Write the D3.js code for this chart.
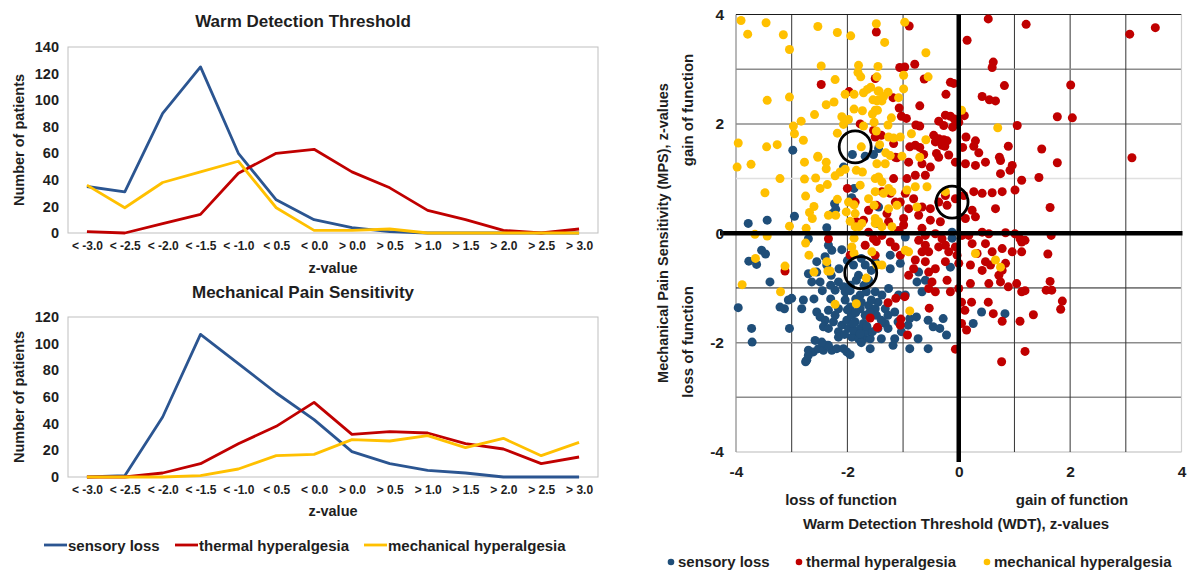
<!DOCTYPE html>
<html><head><meta charset="utf-8">
<script src="https://cdn.jsdelivr.net/npm/d3@7"></script>
<style>
body{margin:0;background:#fff;}
svg{display:block;font-family:"Liberation Sans",Arial,sans-serif;font-weight:bold;}
</style></head>
<body><svg id="c" width="1188" height="571"></svg>
<script>
// ---------- data ----------
const categories = ["< -3.0","< -2.5","< -2.0","< -1.5","< -1.0","< 0.5","< 0.0","> 0.0","> 0.5","> 1.0","> 1.5","> 2.0","> 2.5","> 3.0"];
const wdtSensoryLoss = [35,31,90,125,60,25,10,4,1,0,0,0,0,0];
const wdtThermal     = [1,0,7,14,45,60,63,46,34,17,10,2,0,3];
const wdtMechanical  = [36,19,38,46,54,19,2,2,3,0,0,0,0,0];
const mpsSensoryLoss = [0,1,45,107,85,63,43,19,10,5,3,0,0,0];
const mpsThermal     = [0,0,3,10,25,38,56,32,34,33,25,21,10,15];
const mpsMechanical  = [0,0,0,1,6,16,17,28,27,31,22,29,16,26];
const wdtTicks = [0,20,40,60,80,100,120,140];
const mpsTicks = [0,20,40,60,80,100,120];
const seriesNames = ["sensory loss","thermal hyperalgesia","mechanical hyperalgesia"];
const scatterTicks = [-4,-2,0,2,4];
const gridValues = [-4,-3,-2,-1,0,1,2,3,4];

// scatter points [WDT z, MPS z]
const scatterSensoryLoss = [
[-1.44,1.55],[-2.98,1.52],[-1.91,1.44],[-1.68,1.41],[-1.53,1.44],
[-3.78,0.18],[-3.44,0.24],[-2.95,0.31],[-2.37,0.10],[-2.23,0.54],[-2.21,0.44],[-2.27,0.36],[-2.07,1.21],[-1.92,0.65],[-1.88,0.82],
[-2.70,-0.10],[-2.34,-0.22],[-2.28,-0.31],[-2.40,-0.43],[-2.37,-0.58],[-2.55,-0.52],[-2.70,-0.74],[-2.55,-0.71],[-2.49,-0.89],[-2.64,-0.89],[-2.29,-0.77],[-2.16,-0.89],[-2.07,-0.98],[-2.22,-1.04],[-2.04,-1.07],
[-3.54,-0.31],[-3.47,-0.38],[-3.77,-0.51],[-3.63,-0.57],[-3.39,-0.89],
[-1.89,-0.58],[-1.68,-0.58],[-1.80,-0.77],[-1.57,-0.68],[-1.62,-0.86],[-1.84,-0.86],[-1.50,-0.52],[-1.75,-0.46],
[-1.66,-1.07],[-1.50,-1.07],[-1.77,-1.13],
[-0.12,0.02],[-0.12,-0.09],[-0.15,-0.62],[-1.44,0.48],[-1.47,0.18],[-0.96,-0.07],[-1.05,-0.55],[-1.23,-0.40],[-1.23,-0.65],[-0.72,-0.71],[-0.75,-0.89],[-0.60,-0.86],[-1.26,-1.01],[-1.38,-1.13],[-1.08,-1.13],[-0.96,-1.13],[-0.66,-1.07],
[-3.96,-1.36],[-3.72,-1.74],[-3.71,-1.99],[-3.04,-1.74],[-3.21,-1.35],[-3.13,-1.38],[-3.06,-1.22],[-3.00,-1.19],[-2.82,-1.38],[-2.79,-1.22],[-2.75,-2.35],[-2.73,-2.32],
[-2.70,-2.14],[-2.61,-2.17],[-2.52,-2.11],[-2.43,-2.14],[-2.37,-2.05],[-2.28,-2.14],[-2.19,-2.11],[-2.07,-2.11],[-2.01,-2.17],[-1.95,-2.22],[-2.70,-2.23],
[-2.55,-1.44],[-2.49,-1.53],[-2.40,-1.59],[-2.43,-1.71],[-2.34,-1.74],[-2.25,-1.62],[-2.22,-1.50],[-2.34,-1.41],[-2.16,-1.80],[-2.16,-1.90],[-2.10,-1.68],[-2.01,-1.59],[-1.92,-1.50],[-1.86,-1.62],[-1.77,-1.74],[-1.83,-1.86],[-1.92,-1.90],[-1.71,-1.93],[-1.59,-1.93],[-1.66,-1.80],[-1.71,-1.65],[-1.68,-1.50],[-1.77,-1.38],[-1.62,-1.32],[-1.50,-1.38],[-1.45,-1.26],[-1.32,-1.65],[-1.27,-1.74],[-1.45,-1.74],[-1.39,-1.93],[-1.15,-1.93],[-1.18,-2.05],[-1.03,-1.80],[-0.91,-1.68],[-0.88,-1.56],[-0.76,-1.53],[-0.73,-1.93],[-0.55,-1.59],[-0.46,-1.71],[-0.34,-1.74],[-0.22,-1.86],[-0.28,-1.56],[-0.88,-2.11],[-0.55,-2.11],[-1.59,-2.11],[0.41,-1.44],[0.26,-1.65],[0.83,-1.47],
[-1.98,-1.74],[-1.89,-1.77],[-1.80,-1.93],[-1.77,-1.84],[-1.32,-1.38],[-1.15,-1.44],[-1.09,-1.62],[-1.27,-1.50],[-2.34,-2.05],[-2.46,-1.99],[-2.58,-1.96],
[-2.04,-1.22],[-1.95,-1.35],[-2.16,-1.38],[-1.75,-1.26],[-1.57,-1.22],[-1.48,-1.50],[-1.39,-1.59],
[-2.10,-0.30],[-2.00,-0.50],[-2.15,-0.65],[-1.95,-0.95],[-1.70,-0.95],[-2.30,-0.95],[-2.45,-1.05],[-2.60,-1.20],[-2.30,-1.20],[-2.00,-1.40],[-1.85,-1.20],[-1.95,-1.05],[-1.60,-1.45],[-1.90,-1.65],[-2.05,-1.85],[-1.65,-1.70],[-1.55,-1.80],[-1.75,-2.00],[-1.85,-1.45]
];
const scatterThermal = [
[-1.48,3.68],[-2.47,2.72],[-1.97,2.59],[-1.50,2.83],[-1.77,2.00],[-1.53,1.88],[-1.50,1.76],
[-0.89,3.79],[0.53,3.92],[1.21,3.82],[0.15,3.53],[-0.79,3.09],[-0.97,3.04],[-1.06,3.03],[0.62,3.13],[0.60,3.03],[-0.62,2.82],[-0.15,2.76],[-0.09,2.74],[0.82,2.70],[-0.23,2.54],[-1.18,2.48],[0.42,2.50],[0.55,2.44],[0.66,2.42],[-1.07,2.29],[-0.70,2.33],[-1.03,2.14],[-0.94,2.10],[-0.24,2.16],[-0.15,2.14],[-0.08,2.09],[-0.36,2.05],[-0.27,1.97],[-0.11,1.94],[0.00,2.03],[0.10,2.15],[-0.77,1.98],[-0.70,1.96],[1.05,1.97],[0.13,1.76],[0.30,1.69],[0.27,1.59],[-0.45,1.79],[-0.36,1.73],[-0.27,1.71],[-0.42,1.67],[-0.30,1.61],[-0.21,1.69],[-0.25,1.59],[-0.88,1.58],[-0.78,1.61],[-0.70,1.57],[0.07,1.57],[0.89,1.59],[0.36,1.47],[0.73,1.39],[-0.40,1.46],[-0.18,1.43],[-0.63,1.44],[-1.39,1.79],[-1.17,1.64],[-1.14,1.39],
[3.07,3.64],[3.53,3.76],[2.01,2.71],[1.77,2.13],[2.04,2.11],[1.49,1.54],[1.77,1.29],[3.11,1.38],[1.44,1.02],[1.64,0.47],[1.66,-0.04],
[-2.00,0.82],[-2.34,-0.10],[-3.12,-0.69],[-1.86,0.57],[-1.84,0.21],[-1.71,0.24],[-1.62,0.02],[-1.68,-0.22],[-1.53,-0.10],[-1.48,-0.15],[-1.95,-0.40],[-1.50,-0.40],[-1.48,0.51],[-1.62,0.42],
[-1.11,1.38],[-0.90,1.30],[-0.66,1.27],[-0.51,1.21],[-0.36,1.39],[-0.06,1.30],[0.12,1.27],[0.30,1.24],[0.48,1.30],[0.75,1.33],[0.96,1.24],[0.92,1.15],[0.75,1.09],[-0.60,1.06],[-0.78,1.06],[-1.17,1.00],[-0.93,1.00],
[1.13,0.97],[1.01,0.79],[0.78,0.76],[0.60,0.74],[0.42,0.73],[0.27,0.76],[0.09,0.69],[-0.06,0.63],[-0.24,0.69],[-0.21,0.51],[-0.36,0.57],[-0.51,0.45],[-0.66,0.48],[-0.81,0.63],[-0.96,0.73],[-1.05,0.57],[-0.90,0.45],[-0.72,0.33],[0.66,0.45],[0.24,0.42],[0.30,0.30],[0.12,0.27],[-0.33,0.21],[-0.51,0.24],[-0.99,0.27],[-0.66,0.09],[-0.60,-0.04],[-0.42,-0.01],[-0.30,-0.10],[0.06,-0.04],[0.18,-0.04],[0.42,0.02],[0.54,-0.01],[0.84,0.01],[1.01,-0.01],[1.10,-0.10],[1.13,-0.16],[0.96,-0.34],[1.13,-0.34],
[-0.72,-0.13],[-0.60,-0.22],[-0.54,-0.34],[-0.36,-0.25],[-0.24,-0.22],[-0.06,-0.25],[-0.18,-0.34],[-0.03,-0.40],[0.24,-0.19],[0.48,-0.19],[0.60,-0.34],[0.78,-0.28],[0.33,-0.37],[0.48,-0.52],[0.57,-0.58],[0.84,-0.55],[0.78,-0.68],[0.72,-0.77],[0.42,-0.68],[0.21,-0.58],[0.00,-0.55],[-0.24,-0.52],[-0.42,-0.65],[-0.54,-0.71],[-0.60,-0.52],[-0.78,-0.49],[-0.81,-0.65],[-0.90,-0.77],[-0.48,-0.89],[-0.21,-0.86],[0.00,-1.01],[-0.15,-1.07],[0.21,-0.92],[0.54,-0.92],[0.75,-0.89],[0.89,-0.98],[1.04,-0.92],[1.13,-1.07],[-0.54,-1.01],[-0.42,-1.07],[-0.66,-0.34],[-1.14,-0.25],[-1.05,-0.40],
[-1.38,0.76],[-1.23,0.73],[-1.14,0.57],[-1.29,0.36],[-1.38,-0.04],[-1.23,-0.16],[-1.08,0.05],[-0.99,0.15],[-1.26,0.21],
[-1.59,-1.55],[-1.46,-1.72],[-1.04,-1.57],[-1.05,-1.68],[-0.92,-1.86],[-1.27,-1.27],[-1.13,-1.19],[-0.97,-1.16],[-0.53,-1.37],[-0.06,-2.12],[0.05,-1.26],[0.23,-1.26],[0.11,-1.41],[0.05,-1.65],[0.14,-1.77],[0.53,-1.26],[0.62,-1.47],[0.78,-1.61],[1.10,-1.61],[1.19,-2.16],[0.77,-2.35],
[1.19,-0.13],[1.60,-0.38],[1.64,-0.88],[1.57,-1.04],[1.67,-1.04],[1.19,-1.05],[1.86,-1.24],[1.83,-1.39],[1.34,-1.49]
];
const scatterMechanical = [
[-3.91,3.89],[-3.46,3.85],[-3.79,3.64],[-3.15,3.63],[-2.53,3.78],[-2.18,3.67],[-1.94,3.61],[-1.48,3.83],[-3.04,3.36],[-2.47,3.06],[-1.80,3.07],[-1.81,2.94],[-1.76,2.86],[-1.45,3.05],[-2.22,2.81],[-3.44,2.43],[-3.04,2.49],[-2.38,2.35],[-2.24,2.40],[-2.59,2.17],[-2.83,2.05],[-2.04,2.54],[-1.88,2.54],[-1.71,2.57],[-1.64,2.63],[-1.58,2.67],[-1.45,2.60],[-1.54,2.44],[-1.47,2.42],[-1.88,2.27],[-1.73,2.24],[-1.50,2.25],[-2.10,2.13],[-1.98,2.08],[-2.07,1.99],[-1.71,1.96],[-1.55,2.18],[-1.52,2.03],[-2.97,1.96],[-2.95,1.82],[-2.79,1.70],[-3.96,1.65],[-3.45,1.58],[-3.26,1.62],[-2.53,1.41],[-2.18,1.83],[-1.75,1.58],[-1.48,1.87],
[-0.97,3.86],[-1.33,3.49],[-0.59,3.30],[-0.99,2.89],[-0.55,2.86],[-1.47,2.86],[-0.99,2.64],[-1.43,2.60],[-1.27,2.58],[-1.35,2.50],[-1.44,2.44],[-1.38,2.42],[-1.08,2.48],[-1.46,2.25],[-1.21,2.11],[-1.27,1.98],[0.05,2.25],[0.70,1.93],[-0.85,1.82],[-1.26,1.76],[-1.17,1.74],[-1.05,1.76],[-0.59,1.71],[-1.42,1.62],[-1.31,1.47],[-1.23,1.42],[-1.02,1.41],[-0.70,1.39],
[-3.98,1.21],[-3.73,1.26],[-3.21,1.00],[-2.77,1.30],[-2.53,1.39],[-2.38,1.30],[-2.38,1.18],[-2.77,0.99],[-2.57,1.01],[-2.49,0.82],[-2.36,0.89],[-2.22,1.05],[-2.13,1.12],[-2.04,1.17],[-3.48,0.74],[-2.75,0.68],[-2.60,0.49],[-2.68,0.38],[-2.63,0.27],[-2.34,0.33],[-2.21,0.33],[-3.04,0.13],[-2.74,0.09],[-3.66,-0.02],[-3.44,-0.05],[-2.75,-0.18],[-2.69,-0.40],[-3.65,-0.46],[-3.12,-0.60],[-2.60,-0.71],[-2.35,-0.69],[-3.89,-0.94],[-3.20,-1.07],
[-2.18,0.62],[-1.98,0.57],[-1.88,0.52],[-2.02,0.39],[-1.86,0.36],[-1.95,0.22],[-1.86,0.12],[-1.88,-0.09],[-1.84,1.15],[-1.73,1.12],[-1.77,0.88],[-1.62,0.63],[-1.50,0.76],[-1.50,1.00],[-1.52,0.51],[-1.50,0.27],[-1.50,0.18],[-1.74,0.18],[-1.79,0.12],[-1.92,-0.25],[-1.88,-0.37],[-1.56,-0.34],[-2.37,-0.52],[-2.31,-0.69],[-1.66,-0.82],
[-1.47,1.27],[-1.32,1.27],[-1.44,1.03],[-1.38,0.94],[-1.26,0.82],[-1.20,0.76],[-1.35,0.73],[-1.11,0.51],[-1.26,0.45],[-0.78,0.85],[-0.57,0.85],[-0.75,0.48],[-0.93,0.79],[-1.44,0.21],[-1.38,0.12],[-1.20,0.12],[-0.96,-0.31],[-0.90,-0.34],[-1.47,-0.58],[-1.38,-0.58],[0.30,-0.37],[0.66,-0.49],[0.75,-0.62],[-0.24,0.76],
[-2.22,-1.30],[-1.84,-1.29],[-0.88,-1.42]
];
const circleCenters = [[-1.86,1.58],[-0.12,0.57],[-1.76,-0.72]];

// ---------- drawing ----------
const svg = d3.select("#c");
const colors = ["#2B5591","#C00000","#FFC000"];
const dotColors = ["#1F4E79","#C00000","#FFC000"];
const txt = "#1e1e1e";
const FONT = "Liberation Sans, Arial, sans-serif";

function lineChart(cfg){
  const g = svg.append("g");
  const x = d3.scalePoint().domain(categories).range([cfg.x0,cfg.x1]).padding(0.5);
  const y = d3.scaleLinear().domain([0,cfg.ymax]).range([cfg.y1,cfg.y0]);
  g.append("rect").attr("x",cfg.x0).attr("y",cfg.y0).attr("width",cfg.x1-cfg.x0).attr("height",cfg.y1-cfg.y0)
    .attr("fill","none").attr("stroke","#bfbfbf").attr("stroke-width",1);
  const ya = g.append("g").attr("transform",`translate(${cfg.x0},0)`)
    .call(d3.axisLeft(y).tickValues(cfg.ticks).tickSize(0).tickPadding(9));
  ya.select(".domain").remove();
  ya.selectAll("text").attr("font-size",14.5).attr("font-family",FONT).attr("font-weight","bold").attr("fill",txt);
  const xa = g.append("g").attr("transform",`translate(0,${cfg.y1})`)
    .call(d3.axisBottom(x).tickSize(0).tickPadding(8));
  xa.select(".domain").remove();
  xa.selectAll("text").attr("font-size",12).attr("font-family",FONT).attr("font-weight","bold").attr("fill",txt);
  const line = d3.line().x((d,i)=>x(categories[i])).y(d=>y(d));
  cfg.series.forEach((s,i)=>{
    g.append("path").attr("d",line(s)).attr("fill","none").attr("stroke",colors[i])
      .attr("stroke-width",2.8).attr("stroke-linejoin","round");
  });
  g.append("text").attr("x",303).attr("y",cfg.titleY).attr("text-anchor","middle")
    .attr("font-size",17).attr("fill",txt).text(cfg.title);
  g.append("text").attr("x",333).attr("y",cfg.xTitleY).attr("text-anchor","middle")
    .attr("font-size",14.5).attr("fill",txt).text("z-value");
  g.append("text").attr("transform",`translate(24,${(cfg.y0+cfg.y1)/2}) rotate(-90)`).attr("text-anchor","middle")
    .attr("font-size",14.5).attr("fill",txt).text("Number of patients");
}

lineChart({x0:68,x1:598,y0:47,y1:233,ymax:140,ticks:wdtTicks,series:[wdtSensoryLoss,wdtThermal,wdtMechanical],
  title:"Warm Detection Threshold",titleY:27,xTitleY:273});
lineChart({x0:68,x1:598,y0:317,y1:477,ymax:120,ticks:mpsTicks,series:[mpsSensoryLoss,mpsThermal,mpsMechanical],
  title:"Mechanical Pain Sensitivity",titleY:298,xTitleY:516});

// left legend
const legL = svg.append("g");
const legLx = [44,175,364];
seriesNames.forEach((n,i)=>{
  legL.append("line").attr("x1",legLx[i]).attr("x2",legLx[i]+23).attr("y1",545).attr("y2",545)
    .attr("stroke",colors[i]).attr("stroke-width",2.8);
  legL.append("text").attr("x",legLx[i]+24).attr("y",550.5).attr("font-size",15).attr("fill",txt).text(n);
});

// ---------- scatter ----------
const sx = d3.scaleLinear().domain([-4,4]).range([736,1181.5]);
const sy = d3.scaleLinear().domain([-4,4]).range([452,14.5]);
const sg = svg.append("g");
const hStyle = {"-4":["#d0d0d0",1.5],"-3":["#8c8c8c",1.5],"-2":["#8c8c8c",1.5],"-1":["#1a1a1a",1],"1":["#e0e0e0",1.5],"2":["#8c8c8c",1.5],"3":["#8c8c8c",1.5],"4":["#1a1a1a",1.2]};
const vStyle = {"-4":["#a0a0a0",1.5],"-3":["#333",1],"-2":["#333",1],"-1":["#333",1],"1":["#333",1],"2":["#333",1],"3":["#333",1],"4":["#d0d0d0",1.2]};
gridValues.filter(v=>v!==0).forEach(v=>{
  sg.append("line").attr("x1",sx(-4)).attr("x2",sx(4)).attr("y1",sy(v)).attr("y2",sy(v))
    .attr("stroke",hStyle[v][0]).attr("stroke-width",hStyle[v][1]);
  sg.append("line").attr("y1",sy(-4)).attr("y2",sy(4)).attr("x1",sx(v)).attr("x2",sx(v))
    .attr("stroke",vStyle[v][0]).attr("stroke-width",vStyle[v][1]);
});
[scatterSensoryLoss,scatterThermal,scatterMechanical].forEach((pts,i)=>{
  sg.append("g").selectAll("circle").data(pts).join("circle")
    .attr("cx",d=>sx(d[0])).attr("cy",d=>sy(d[1])).attr("r",4.5).attr("fill",dotColors[i]);
});
// zero axes
sg.append("line").attr("x1",720).attr("x2",sx(4)+1).attr("y1",sy(0)).attr("y2",sy(0)).attr("stroke","#000").attr("stroke-width",4.5);
sg.append("line").attr("x1",sx(0)).attr("x2",sx(0)).attr("y1",sy(4)).attr("y2",sy(-4)+10).attr("stroke","#000").attr("stroke-width",4.5);
// circles
sg.append("g").selectAll("circle").data(circleCenters).join("circle")
  .attr("cx",d=>sx(d[0])).attr("cy",d=>sy(d[1])).attr("r",16).attr("fill","none").attr("stroke","#000").attr("stroke-width",2.8);
// tick labels
const yAx = sg.append("g").attr("transform","translate(724,0)").call(d3.axisLeft(sy).tickValues(scatterTicks).tickFormat(d=>String(d)).tickSize(0).tickPadding(0));
yAx.select(".domain").remove();
yAx.selectAll("text").attr("font-size",15.5).attr("font-weight","bold").attr("font-family",FONT).attr("fill",txt);
const xAx = sg.append("g").attr("transform","translate(0,462)").call(d3.axisBottom(sx).tickValues(scatterTicks).tickFormat(d=>String(d)).tickSize(0).tickPadding(4));
xAx.select(".domain").remove();
xAx.selectAll("text").attr("font-size",15.5).attr("font-weight","bold").attr("font-family",FONT).attr("fill",txt);
// axis titles
sg.append("text").attr("x",841).attr("y",505).attr("text-anchor","middle").attr("font-size",15).attr("fill",txt).text("loss of function");
sg.append("text").attr("x",1072).attr("y",505).attr("text-anchor","middle").attr("font-size",15).attr("fill",txt).text("gain of function");
sg.append("text").attr("x",956).attr("y",529).attr("text-anchor","middle").attr("font-size",15).attr("fill",txt).text("Warm Detection Threshold (WDT), z-values");
sg.append("text").attr("transform","translate(668,233) rotate(-90)").attr("text-anchor","middle").attr("font-size",14.5).attr("fill",txt).text("Mechanical Pain Sensitivity (MPS), z-values");
sg.append("text").attr("transform","translate(693,110) rotate(-90)").attr("text-anchor","middle").attr("font-size",15).attr("fill",txt).text("gain of function");
sg.append("text").attr("transform","translate(693,342) rotate(-90)").attr("text-anchor","middle").attr("font-size",15).attr("fill",txt).text("loss of function");
// scatter legend
const legRx = [671,799,987];
seriesNames.forEach((n,i)=>{
  sg.append("circle").attr("cx",legRx[i]).attr("cy",562).attr("r",3.3).attr("fill",dotColors[i]);
  sg.append("text").attr("x",legRx[i]+7).attr("y",567).attr("font-size",15).attr("fill",txt).text(n);
});
</script></body></html>
